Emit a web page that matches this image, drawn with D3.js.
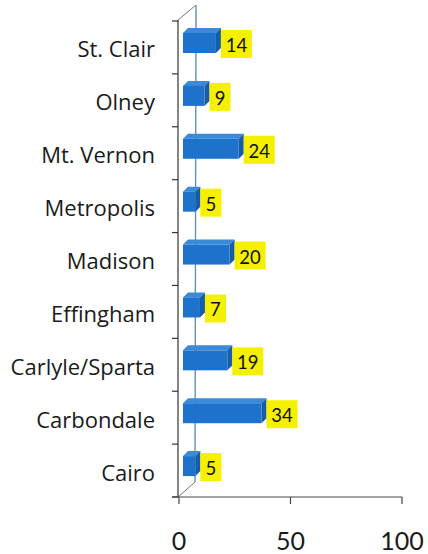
<!DOCTYPE html>
<html><head><meta charset="utf-8">
<script src="https://cdnjs.cloudflare.com/ajax/libs/d3/7.8.5/d3.min.js"></script>
<style>html,body{margin:0;padding:0;background:#fff;}svg{display:block;}</style>
</head><body><svg id="c" width="428" height="554"></svg>
<script>
const categories = ["St. Clair","Olney","Mt. Vernon","Metropolis","Madison","Effingham","Carlyle/Sparta","Carbondale","Cairo"];
const values = [14, 9, 24, 5, 20, 7, 19, 34, 5];
const tickValues = [0, 50, 100];

const svg = d3.select("#c");
const FONT = "Lato, 'Open Sans', sans-serif";
const CAT_FONT = "'Open Sans', Lato, sans-serif";

const y = d3.scaleBand().domain(categories).range([21, 497]).padding(0);
const xAxisScale = d3.scaleLinear().domain([0, 100]).range([179, 402]);
const xBar = d3.scaleLinear().domain([0, 100]).range([184, 412]);

const depthX = 5, depthY = -5;

// back wall / floor lines
const g = svg.append("g");
g.append("line").attr("x1", 178).attr("y1", 20).attr("x2", 196).attr("y2", 5)
  .attr("stroke", "#777").attr("stroke-width", 1);
g.append("line").attr("x1", 178).attr("y1", 497).attr("x2", 195).attr("y2", 482)
  .attr("stroke", "#777").attr("stroke-width", 1);
g.append("line").attr("x1", 196).attr("y1", 5).attr("x2", 195).attr("y2", 482)
  .attr("stroke", "#5f93b8").attr("stroke-width", 1.4);

// bars
const bars = svg.append("g").selectAll("g").data(categories).join("g");
bars.each(function(c, i) {
  const sel = d3.select(this);
  const x0 = 183, x1 = xBar(values[i]);
  const yt = y(c) + 12, h = 20;
  sel.append("path")
    .attr("d", `M${x0},${yt} L${x0+depthX},${yt+depthY} L${x1+depthX},${yt+depthY} L${x1},${yt} Z`)
    .attr("fill", "#3a8ad8");
  sel.append("path")
    .attr("d", `M${x1},${yt} L${x1+depthX},${yt+depthY} L${x1+depthX},${yt+h+depthY} L${x1},${yt+h} Z`)
    .attr("fill", "#175ca6");
  sel.append("rect").attr("x", x0).attr("y", yt).attr("width", x1 - x0).attr("height", h)
    .attr("fill", "#1d72cc");
  const txt = String(values[i]);
  const bw = txt.length > 1 ? 31 : 21;
  const bx = x1 + depthX;
  sel.append("rect").attr("x", bx).attr("y", y(c) + 9).attr("width", bw).attr("height", 28)
    .attr("fill", "#f5f000");
  sel.append("text").attr("x", bx + bw / 2).attr("y", y(c) + 31)
    .attr("text-anchor", "middle").attr("font-family", FONT).attr("font-size", 18.5)
    .attr("fill", "#111").text(txt);
});

// front vertical axis
const ax = svg.append("g");
ax.append("line").attr("x1", 178).attr("y1", 20).attr("x2", 178).attr("y2", 497)
  .attr("stroke", "#333").attr("stroke-width", 1.2);
const bounds = categories.map(c => y(c)).concat([y.range()[1]]);
ax.selectAll("line.tk").data(bounds).join("line").attr("class", "tk")
  .attr("x1", 172).attr("x2", 178).attr("y1", d => d).attr("y2", d => d)
  .attr("stroke", "#333").attr("stroke-width", 1.2);
ax.selectAll("text.cat").data(categories).join("text").attr("class", "cat")
  .attr("x", 155).attr("y", d => y(d) + y.bandwidth() / 2 + 10)
  .attr("text-anchor", "end").attr("font-family", CAT_FONT).attr("font-size", 22)
  .attr("fill", "#1a1a1a").text(d => d);

// bottom axis
const bx = svg.append("g");
bx.append("line").attr("x1", 172).attr("y1", 497).attr("x2", 402).attr("y2", 497)
  .attr("stroke", "#444").attr("stroke-width", 1.2);
bx.selectAll("line.tk").data(tickValues).join("line").attr("class", "tk")
  .attr("x1", d => xAxisScale(d)).attr("x2", d => xAxisScale(d))
  .attr("y1", 497).attr("y2", 504).attr("stroke", "#444").attr("stroke-width", 1.2);
bx.selectAll("text").data(tickValues).join("text")
  .attr("x", d => xAxisScale(d)).attr("y", 550).attr("text-anchor", "middle")
  .attr("font-family", FONT).attr("font-size", 25).attr("fill", "#1a1a1a").text(d => d);
</script></body></html>
